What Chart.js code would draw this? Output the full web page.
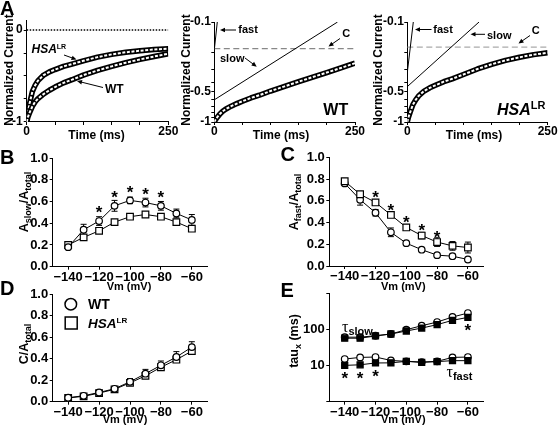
<!DOCTYPE html>
<html><head><meta charset="utf-8">
<script src="https://cdn.jsdelivr.net/npm/chart.js@4.4.1/dist/chart.umd.min.js"></script>
<style>
html,body{margin:0;padding:0;background:#fff;}
#wrap{position:relative;width:560px;height:427px;overflow:hidden;background:#fff;}
canvas{position:absolute;left:0;top:0;}
</style></head><body><div id="wrap">
<canvas id="cA1" width="560" height="427"></canvas>
<canvas id="cA2" width="560" height="427"></canvas>
<canvas id="cA3" width="560" height="427"></canvas>
<canvas id="cB" width="560" height="427"></canvas>
<canvas id="cC" width="560" height="427"></canvas>
<canvas id="cD" width="560" height="427"></canvas>
<canvas id="cE" width="560" height="427"></canvas>
</div>
<script>
// ================= DATA =================
// Panel A: normalized current traces (magnitude of current, sign is negative)
const timeMs     = [0, 2, 5, 10, 15, 20, 30, 40, 50, 65, 80, 100, 125, 150, 175, 200, 225, 250];
const currentWT  = [1.0, 0.95, 0.90, 0.83, 0.78, 0.745, 0.695, 0.655, 0.62, 0.575, 0.54, 0.49, 0.44, 0.395, 0.355, 0.32, 0.288, 0.258];
const currentHSA = [1.0, 0.90, 0.80, 0.67, 0.60, 0.55, 0.49, 0.455, 0.43, 0.395, 0.37, 0.335, 0.295, 0.265, 0.242, 0.225, 0.212, 0.203];
const timeTicks  = [0, 50, 100, 150, 200, 250];
// exponential fit components (log plots)
const wtFastT  = [0, 5.3],   wtFastI  = [0.19, 0.1];
const wtSlowT  = [0, 219],   wtSlowI  = [0.60, 0.1];
const wtConstT = [0, 250],   wtConstI = [0.185, 0.185];
const hsaFastT  = [0, 10.7],  hsaFastI  = [0.32, 0.1];
const hsaSlowT  = [0, 127.7], hsaSlowI  = [0.443, 0.1];
const hsaConstT = [0, 250],   hsaConstI = [0.178, 0.178];
const linTicksA = [0, -0.25, -0.5, -0.75, -1];
const logTicksA = [0.1, 0.2, 0.3, 0.4, 0.5, 0.6, 0.7, 0.8, 0.9, 1.0];

// Panels B-E
const vm      = [-140, -130, -120, -110, -100, -90, -80, -70, -60];
const vmTicks = [-140, -120, -100, -80, -60];
const fracTicks = [0, 0.2, 0.4, 0.6, 0.8, 1.0];
const tauTicks  = [1, 10, 100, 1000];

const slowWT     = [0.18, 0.34, 0.42, 0.56, 0.61, 0.59, 0.56, 0.49, 0.43];
const slowWTErr  = [0.02, 0.05, 0.04, 0.05, 0.03, 0.04, 0.04, 0.04, 0.05];
const slowHSA    = [0.20, 0.27, 0.33, 0.41, 0.46, 0.48, 0.46, 0.41, 0.35];
const slowHSAErr = [0.02, 0.01, 0.01, 0.01, 0.01, 0.01, 0.02, 0.02, 0.02];

const fastWT     = [0.76, 0.61, 0.49, 0.31, 0.21, 0.15, 0.10, 0.09, 0.06];
const fastWTErr  = [0.02, 0.05, 0.03, 0.04, 0.01, 0.01, 0.01, 0.02, 0.01];
const fastHSA    = [0.78, 0.66, 0.585, 0.47, 0.355, 0.28, 0.22, 0.185, 0.17];
const fastHSAErr = [0.02, 0.02, 0.02, 0.01, 0.01, 0.03, 0.04, 0.04, 0.05];

const constWT     = [0.037, 0.055, 0.086, 0.12, 0.185, 0.26, 0.338, 0.415, 0.507];
const constWTErr  = [0.01, 0.01, 0.01, 0.01, 0.03, 0.04, 0.04, 0.05, 0.05];
const constHSA    = [0.035, 0.05, 0.08, 0.115, 0.175, 0.24, 0.32, 0.39, 0.47];
const constHSAErr = [0.01, 0.01, 0.01, 0.01, 0.01, 0.02, 0.02, 0.02, 0.02];

const tauSlowWT  = [62, 62, 68, 76, 100, 129, 163, 225, 290];
const tauSlowHSA = [58, 58, 67, 76, 92, 111, 138, 182, 220];
const tauFastWT  = [15.3, 17, 17.4, 14, 13.2, 12.6, 13.2, 17, 17.4];
const tauFastWTErr = [0.5, 0.5, 0.5, 0.5, 0.5, 0.5, 0.5, 2.5, 3];
const tauFastHSA = [10.2, 10.6, 11.9, 12, 13.2, 12.4, 13, 13.8, 13.8];
const tauFastHSAErr = [0.3, 0.3, 0.3, 0.3, 0.3, 0.3, 0.3, 1, 1.2];

// significance markers (voltages)
const starsB = [-120, -110, -100, -90, -80];
const starsC = [-120, -110, -100, -90, -80];
const starsEfast = [-140, -130, -120];
const starsEslow = [-60];

// ================= HELPERS =================
const FONT = "'Liberation Sans', Arial, sans-serif";
const W = 560, H = 427;
const pts = (xs, ys, sign) => xs.map((x, i) => ({x: x, y: (sign || 1) * ys[i]}));
const tf = (size) => ({family: FONT, size: size, weight: 'bold'});

function baseScale(o) {
  return Object.assign({
    grid: {drawOnChartArea: false, drawTicks: true, tickLength: 3, color: '#000', lineWidth: 1},
    border: {display: true, color: '#000', width: 1},
  }, o);
}

function errorBars(chart) {
  const ctx = chart.ctx, xs = chart.scales.x, ys = chart.scales.y;
  ctx.save(); ctx.strokeStyle = '#000'; ctx.lineWidth = 1;
  chart.data.datasets.forEach(ds => {
    if (!ds.errors) return;
    ds.data.forEach((p, i) => {
      const e = ds.errors[i]; if (!e) return;
      const x = xs.getPixelForValue(p.x);
      const y1 = ys.getPixelForValue(p.y + e), y2 = ys.getPixelForValue(Math.max(p.y - e, 1e-6));
      ctx.beginPath();
      ctx.moveTo(x, y1); ctx.lineTo(x, y2);
      ctx.moveTo(x - 3, y1); ctx.lineTo(x + 3, y1);
      ctx.moveTo(x - 3, y2); ctx.lineTo(x + 3, y2);
      ctx.stroke();
    });
  });
  ctx.restore();
}

// datasets are listed in drawing order (first = bottom); Chart.js draws index 0 on top, so reverse
function makeChart(id, area, datasets, xOpt, yOpt, extra) {
  const YW = Math.min(30, Math.floor(area.l)), XH = 24;
  return new Chart(document.getElementById(id), {
    type: 'line',
    data: {datasets: datasets.slice().reverse()},
    options: {
      responsive: false, animation: false, devicePixelRatio: 1, events: [],
      layout: {padding: {left: area.l - YW, top: area.t, right: W - area.r, bottom: H - area.b - XH}},
      plugins: {legend: {display: false}, tooltip: {enabled: false}},
      elements: {line: {tension: 0}},
      scales: {
        x: Object.assign(xOpt, {afterFit: s => { s.height = XH; }}),
        y: Object.assign(yOpt, {afterFit: s => { s.width = YW; }}),
      },
    },
    plugins: [{id: 'deco', beforeDatasetsDraw: errorBars, afterDraw: c => { if (extra) extra(c.ctx, c); }}],
  });
}

function letter(ctx, t, x, y) {
  ctx.save(); ctx.fillStyle = '#000'; ctx.font = 'bold 20px ' + FONT;
  ctx.textAlign = 'left'; ctx.textBaseline = 'alphabetic'; ctx.fillText(t, x, y); ctx.restore();
}
function rich(ctx, parts, x, y, rotate, align) {
  ctx.save(); ctx.fillStyle = '#000'; ctx.textBaseline = 'alphabetic'; ctx.textAlign = 'left';
  const f = p => (p.style || 'normal') + ' ' + (p.weight || 'bold') + ' ' + p.size + 'px ' + (p.family || FONT);
  let total = 0;
  parts.forEach(p => { ctx.font = f(p); p.w = ctx.measureText(p.t).width; total += p.w; });
  ctx.translate(x, y);
  if (rotate) ctx.rotate(-Math.PI / 2);
  let cx = align === 'center' ? -total / 2 : 0;
  parts.forEach(p => { ctx.font = f(p); ctx.fillText(p.t, cx, p.dy || 0); cx += p.w; });
  ctx.restore();
}
function ctext(ctx, t, x, y, size, align) {
  ctx.save(); ctx.fillStyle = '#000'; ctx.font = 'bold ' + size + 'px ' + FONT;
  ctx.textAlign = align || 'center'; ctx.textBaseline = 'middle'; ctx.fillText(t, x, y); ctx.restore();
}
function arrow(ctx, x1, y1, x2, y2) {
  const a = Math.atan2(y2 - y1, x2 - x1), L = 5, Wd = 2.3;
  ctx.save(); ctx.strokeStyle = '#000'; ctx.fillStyle = '#000'; ctx.lineWidth = 1;
  ctx.beginPath(); ctx.moveTo(x1, y1); ctx.lineTo(x2 - L * 0.8 * Math.cos(a), y2 - L * 0.8 * Math.sin(a)); ctx.stroke();
  ctx.beginPath(); ctx.moveTo(x2, y2);
  ctx.lineTo(x2 - L * Math.cos(a) + Wd * Math.sin(a), y2 - L * Math.sin(a) - Wd * Math.cos(a));
  ctx.lineTo(x2 - L * Math.cos(a) - Wd * Math.sin(a), y2 - L * Math.sin(a) + Wd * Math.cos(a));
  ctx.closePath(); ctx.fill(); ctx.restore();
}
function drawStars(ctx, chart, list, series, offset) {
  ctx.save(); ctx.fillStyle = '#000'; ctx.font = 'bold 17px ' + FONT;
  ctx.textAlign = 'center'; ctx.textBaseline = 'alphabetic';
  list.forEach(v => {
    const i = vm.indexOf(v);
    const px = chart.scales.x.getPixelForValue(v);
    const cy = chart.scales.y.getPixelForValue(series[i]) + offset;
    ctx.fillText('*', px, cy + 9.7);
  });
  ctx.restore();
}

function traceSets(data) {
  return [
    {data: data, borderColor: '#000', borderWidth: 5.5, pointRadius: 0, borderJoinStyle: 'round'},
    {data: data, borderColor: '#fff', borderWidth: 2, borderDash: [3, 1.6], pointRadius: 0},
  ];
}
function thinLine(data, color, dash, width) {
  return {data: data, borderColor: color || '#000', borderWidth: width || 1, borderDash: dash || [], pointRadius: 0};
}
function markerSet(xs, ys, errs, style, filled, r) {
  return {data: pts(xs, ys), errors: errs, borderColor: '#000', borderWidth: 1, pointStyle: style,
    pointRadius: r, pointBorderWidth: 1.2, pointBackgroundColor: filled ? '#000' : '#fff', pointBorderColor: '#000'};
}

// ---- scales ----
function timeScale() {
  return baseScale({type: 'linear', min: 0, max: 250,
    afterBuildTicks: s => { s.ticks = timeTicks.map(v => ({value: v})); },
    ticks: {autoSkip: false, maxRotation: 0, font: tf(12), color: '#000', padding: -1,
      callback: v => (v === 0 || v === 250) ? String(v) : ''}});
}
function logCurrentScale() {
  return baseScale({type: 'logarithmic', min: 0.1, max: 1, reverse: true,
    afterBuildTicks: s => { s.ticks = logTicksA.map(v => ({value: v})); },
    ticks: {autoSkip: false, font: tf(12), color: '#000', padding: 0.5,
      callback: v => (Math.abs(v - 0.1) < 1e-6 ? '-0.1' : Math.abs(v - 0.5) < 1e-6 ? '-0.5' : Math.abs(v - 1) < 1e-6 ? '-1' : '')}});
}
function vmScale() {
  return baseScale({type: 'linear', min: -150, max: -50,
    afterBuildTicks: s => { s.ticks = vmTicks.map(v => ({value: v})); },
    ticks: {autoSkip: false, maxRotation: 0, font: tf(13), color: '#000', padding: 0,
      callback: v => String(v).replace('-', '\u2212')}});
}
function fracScale() {
  return baseScale({type: 'linear', min: 0, max: 1,
    afterBuildTicks: s => { s.ticks = fracTicks.map(v => ({value: v})); },
    ticks: {autoSkip: false, font: tf(13), color: '#000', padding: 1.5, callback: v => v.toFixed(1)}});
}

// ================= PANEL A1 =================
makeChart('cA1', {l: 26.7, t: 20.8, r: 168.3, b: 122},
  [thinLine(pts([0, 250], [0, 0]), '#000', [1.5, 1.5], 1.5)]
    .concat(traceSets(pts(timeMs, currentHSA, -1)))
    .concat(traceSets(pts(timeMs, currentWT, -1))),
  timeScale(),
  baseScale({type: 'linear', min: -1, max: 0.1,
    afterBuildTicks: s => { s.ticks = linTicksA.map(v => ({value: v})); },
    ticks: {autoSkip: false, font: tf(12), color: '#000', padding: 1,
      callback: v => v === 0 ? '0' : v === -1 ? '-1' : ''}}),
  (ctx) => {
    letter(ctx, 'A', 0, 15);
    rich(ctx, [{t: 'Normalized Current', size: 12}], 13, 70, true, 'center');
    ctext(ctx, 'Time (ms)', 96.5, 136, 12);
    rich(ctx, [{t: 'HSA', size: 12, style: 'italic'}, {t: 'LR', size: 7, dy: -4}], 31.5, 53.3, false, 'left');
    arrow(ctx, 64, 55, 76.5, 59.5);
    rich(ctx, [{t: 'WT', size: 12}], 105, 93.3, false, 'left');
    arrow(ctx, 103, 87.5, 77, 81);
  });

// ================= PANEL A2 (WT, log) =================
makeChart('cA2', {l: 214.3, t: 22, r: 355, b: 122},
  [thinLine(pts(wtConstT, wtConstI), '#888', [6, 3.5], 1.2),
   thinLine(pts(wtSlowT, wtSlowI)),
   thinLine(pts(wtFastT, wtFastI))]
    .concat(traceSets(pts(timeMs, currentWT))),
  timeScale(), logCurrentScale(),
  (ctx) => {
    rich(ctx, [{t: 'Normalized Current', size: 12}], 190, 70, true, 'center');
    ctext(ctx, 'Time (ms)', 281, 136, 12);
    rich(ctx, [{t: 'fast', size: 11}], 238.3, 33.3, false, 'left');
    arrow(ctx, 236, 30, 220, 30);
    rich(ctx, [{t: 'slow', size: 11}], 220, 61.7, false, 'left');
    arrow(ctx, 245, 58, 256.7, 66.7);
    rich(ctx, [{t: 'C', size: 11}], 342.3, 37.3, false, 'left');
    arrow(ctx, 340, 38.5, 328.5, 46.5);
    rich(ctx, [{t: 'WT', size: 16}], 323.3, 115, false, 'left');
  });

// ================= PANEL A3 (HSA, log) =================
makeChart('cA3', {l: 407.3, t: 22, r: 547.7, b: 122},
  [thinLine(pts(hsaConstT, hsaConstI), '#aaa', [6, 3.5], 1.2),
   thinLine(pts(hsaSlowT, hsaSlowI)),
   thinLine(pts(hsaFastT, hsaFastI))]
    .concat(traceSets(pts(timeMs, currentHSA))),
  timeScale(), logCurrentScale(),
  (ctx) => {
    rich(ctx, [{t: 'Normalized Current', size: 12}], 381.5, 70, true, 'center');
    ctext(ctx, 'Time (ms)', 474, 136, 12);
    rich(ctx, [{t: 'fast', size: 11}], 433.3, 33.3, false, 'left');
    arrow(ctx, 431.5, 29.5, 415, 29.5);
    rich(ctx, [{t: 'slow', size: 11}], 487, 39, false, 'left');
    arrow(ctx, 485, 34.3, 470.5, 34.3);
    rich(ctx, [{t: 'C', size: 11}], 531.7, 34.3, false, 'left');
    arrow(ctx, 530, 35.5, 518.5, 43.5);
    rich(ctx, [{t: 'HSA', size: 16, style: 'italic'}, {t: 'LR', size: 11, dy: -6.5}], 497, 115, false, 'left');
  });

// ================= PANEL B =================
makeChart('cB', {l: 52.7, t: 158, r: 207.3, b: 266.7},
  [markerSet(vm, slowHSA, slowHSAErr, 'rect', false, 4.7),
   markerSet(vm, slowWT, slowWTErr, 'circle', false, 3.3)],
  vmScale(), fracScale(),
  (ctx, c) => {
    letter(ctx, 'B', 0, 164);
    rich(ctx, [{t: 'A', size: 12.5}, {t: 'slow', size: 9, dy: 3}, {t: '/A', size: 12.5}, {t: 'total', size: 9, dy: 3}], 28, 202, true, 'center');
    ctext(ctx, 'Vm (mV)', 129, 287, 11);
    drawStars(ctx, c, starsB, slowWT, -12.5);
  });

// ================= PANEL C =================
makeChart('cC', {l: 329.3, t: 157.3, r: 483.3, b: 266},
  [markerSet(vm, fastWT, fastWTErr, 'circle', false, 3.3),
   markerSet(vm, fastHSA, fastHSAErr, 'rect', false, 4.7)],
  vmScale(), fracScale(),
  (ctx, c) => {
    letter(ctx, 'C', 280.5, 161);
    rich(ctx, [{t: 'A', size: 12.5}, {t: 'fast', size: 9, dy: 3}, {t: '/A', size: 12.5}, {t: 'total', size: 9, dy: 3}], 298, 202, true, 'center');
    ctext(ctx, 'Vm (mV)', 403.3, 287, 11);
    drawStars(ctx, c, starsC, fastHSA, -9);
  });

// ================= PANEL D =================
makeChart('cD', {l: 52.7, t: 294, r: 207.3, b: 401.7},
  [markerSet(vm, constHSA, constHSAErr, 'rect', false, 4.7),
   markerSet(vm, constWT, constWTErr, 'circle', false, 3.3)],
  vmScale(), fracScale(),
  (ctx) => {
    letter(ctx, 'D', 0, 295);
    rich(ctx, [{t: 'C/A', size: 12.5}, {t: 'total', size: 9, dy: 3}], 27.5, 344, true, 'center');
    ctext(ctx, 'Vm (mV)', 125, 420, 11);
    // legend
    ctx.save(); ctx.strokeStyle = '#000'; ctx.lineWidth = 1.5;
    ctx.beginPath(); ctx.arc(70.8, 304.2, 5.8, 0, Math.PI * 2); ctx.stroke();
    ctx.strokeRect(65.2, 317, 12, 12);
    ctx.restore();
    rich(ctx, [{t: 'WT', size: 14}], 88, 309.3, false, 'left');
    rich(ctx, [{t: 'HSA', size: 13.5, style: 'italic'}, {t: 'LR', size: 8, dy: -5}], 88, 327.5, false, 'left');
  });

// ================= PANEL E =================
makeChart('cE', {l: 329.3, t: 293.7, r: 483.3, b: 401.7},
  [markerSet(vm, tauSlowWT, null, 'circle', false, 3.3),
   markerSet(vm, tauFastWT, tauFastWTErr, 'circle', false, 3.3),
   markerSet(vm, tauSlowHSA, null, 'rect', true, 4.3),
   markerSet(vm, tauFastHSA, tauFastHSAErr, 'rect', true, 4.3)],
  vmScale(),
  baseScale({type: 'logarithmic', min: 1, max: 1000,
    afterBuildTicks: s => { s.ticks = tauTicks.map(v => ({value: v})); },
    ticks: {autoSkip: false, font: tf(13), color: '#000', padding: 1.5,
      callback: v => (v === 10 || v === 100) ? String(v) : ''}}),
  (ctx, c) => {
    letter(ctx, 'E', 280.5, 297);
    rich(ctx, [{t: 'tau', size: 12.5}, {t: 'x', size: 9, dy: 3}, {t: ' (ms)', size: 12.5}], 297.5, 341, true, 'center');
    ctext(ctx, 'Vm (mV)', 403.3, 420, 11);
    drawStars(ctx, c, starsEfast, tauFastHSA, 9.3);
    drawStars(ctx, c, starsEslow, tauSlowHSA, 9);
    const serif = "'Liberation Serif', 'DejaVu Serif', serif";
    rich(ctx, [{t: '\u03c4', size: 16, weight: 'normal', family: serif}, {t: 'slow', size: 11, dy: 2.5}], 342, 332, false, 'left');
    rich(ctx, [{t: '\u03c4', size: 16, weight: 'normal', family: serif}, {t: 'fast', size: 11, dy: 3}], 446.5, 376.5, false, 'left');
  });
</script>
</body></html>
